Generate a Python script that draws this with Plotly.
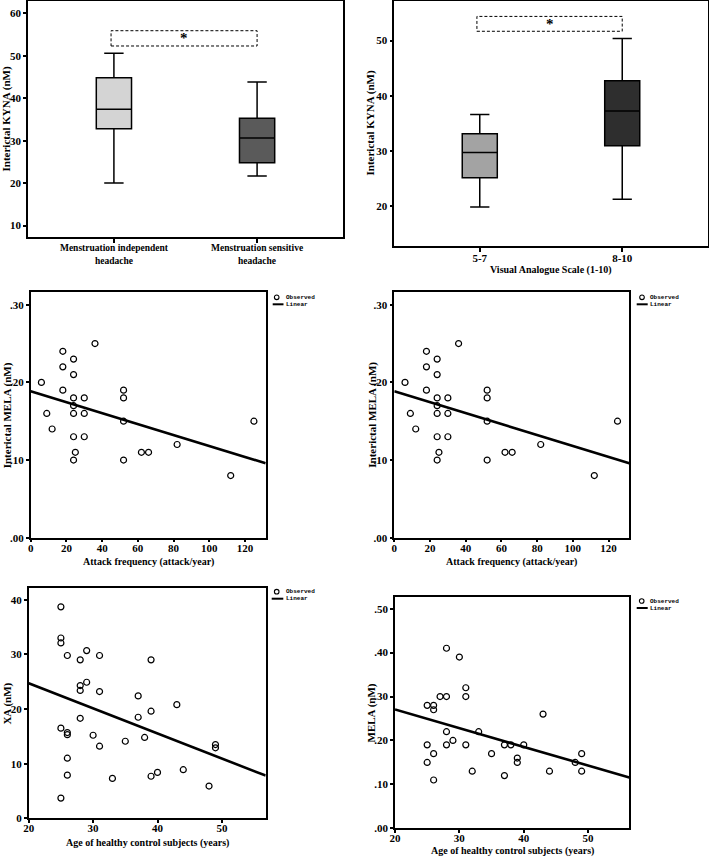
import numpy as np
import plotly.graph_objects as go

W, H = 709, 857
SERIF = "Liberation Serif"
MONO = "Liberation Mono"

# ---------------- Data ----------------
# Panel 1: box plot, menstruation groups
p1_categories = ["Menstruation independent<br>headache", "Menstruation sensitive<br>headache"]
p1_q1 = [32.8, 24.8]
p1_median = [37.4, 30.6]
p1_q3 = [44.8, 35.3]
p1_low = [20.0, 21.7]
p1_high = [50.6, 43.8]
p1_colors = ["#d4d4d4", "#5a5a5a"]

# Panel 2: box plot, VAS groups
p2_categories = ["5-7", "8-10"]
p2_q1 = [25.1, 30.9]
p2_median = [29.7, 37.2]
p2_q3 = [33.1, 42.7]
p2_low = [19.8, 21.2]
p2_high = [36.6, 50.4]
p2_colors = ["#a3a3a3", "#2e2e2e"]

# Panels 3 & 4: attack frequency vs interictal MELA
attack_freq = [6, 9, 12, 18, 18, 18, 24, 24, 24, 24, 24, 24, 24, 25, 30, 30, 30, 36,
               52, 52, 52, 52, 62, 66, 82, 112, 125]
interictal_mela = [0.20, 0.16, 0.14, 0.24, 0.22, 0.19, 0.23, 0.21, 0.18, 0.17, 0.16, 0.13, 0.10,
                   0.11, 0.18, 0.16, 0.13, 0.25, 0.19, 0.18, 0.15, 0.10, 0.11, 0.11, 0.12, 0.08, 0.15]

# Panel 5: age vs XA
age_xa = [25, 25, 25, 25, 25, 26, 26, 26, 26, 26, 28, 28, 28, 28, 29, 29, 30, 31, 31, 31,
          33, 35, 37, 37, 38, 39, 39, 39, 40, 43, 44, 48, 49, 49]
xa = [38.7, 33.0, 32.1, 16.5, 3.7, 29.8, 15.7, 15.3, 11.0, 7.9, 29.0, 24.3, 23.4, 18.3, 30.7,
      24.9, 15.2, 29.8, 23.2, 13.2, 7.3, 14.1, 22.4, 18.5, 14.8, 29.0, 19.6, 7.7, 8.4, 20.8,
      8.9, 5.9, 13.5, 12.9]

# Panel 6: age vs MELA
age_mela = [25, 25, 25, 26, 26, 26, 26, 27, 28, 28, 28, 28, 29, 30, 31, 31, 31, 32, 33, 35,
            37, 37, 38, 39, 39, 40, 43, 44, 48, 49, 49]
mela = [0.28, 0.19, 0.15, 0.28, 0.27, 0.17, 0.11, 0.30, 0.41, 0.30, 0.22, 0.19, 0.20, 0.39,
        0.32, 0.30, 0.19, 0.13, 0.22, 0.17, 0.19, 0.12, 0.19, 0.16, 0.15, 0.19, 0.26, 0.13,
        0.15, 0.17, 0.13]

# ---------------- Layout helpers ----------------
def px_x(p):
    return p / W

def px_y(p):
    return 1 - p / H

def axis_common(ticklen=3, fsize=11, standoff=0):
    return dict(showline=True, mirror=True, linecolor="black", linewidth=1.5,
                ticks="outside", ticklen=ticklen, tickwidth=1.5, tickcolor="black",
                showgrid=False, zeroline=False, automargin=False,
                ticklabelstandoff=standoff,
                tickfont=dict(family=SERIF, size=fsize, color="black", weight="bold"))

fig = go.Figure()
annotations = []
shapes = []

# panel frames in pixels: (left, right, top, bottom)
frames = {
    1: (28, 343, 1, 237),
    2: (394.3, 707.7, 1, 246),
    3: (30.7, 265.7, 292.3, 537.7),
    4: (394.3, 629.3, 292.3, 537.7),
    5: (28.7, 265.7, 588.3, 818.3),
    6: (395, 629.3, 597.3, 828.3),
}

def dom(i):
    l, r, t, b = frames[i]
    return [px_x(l), px_x(r)], [px_y(b), px_y(t)]

def axname(i, kind):
    return kind if i == 1 else f"{kind}{i}"

# ---------------- Box panels ----------------
def add_box_panel(i, cats, q1, med, q3, low, high, colors, yrange, ytickvals, sig_y):
    for k, c in enumerate(cats):
        fig.add_trace(go.Box(
            x=[c], q1=[q1[k]], median=[med[k]], q3=[q3[k]],
            lowerfence=[low[k]], upperfence=[high[k]],
            fillcolor=colors[k], line=dict(color="black", width=1.5),
            width=0.246, whiskerwidth=0.55, boxpoints=False, showlegend=False,
            hoverinfo="skip",
            xaxis=axname(i, "x"), yaxis=axname(i, "y")))
    xd, yd = dom(i)
    fig.layout[axname(i, "xaxis")] = dict(domain=xd, anchor=axname(i, "y"), type="category",
                                          range=[-0.6, 1.6],
                                          **axis_common(4, 9.5 if i == 1 else 11, -3))
    fig.layout[axname(i, "yaxis")] = dict(domain=yd, anchor=axname(i, "x"), range=yrange,
                                          tickvals=ytickvals, **axis_common())
    # significance box
    shapes.append(dict(type="rect", xref=axname(i, "x"), yref=axname(i, "y"),
                       x0=-0.02, x1=1.0, y0=sig_y[0], y1=sig_y[1],
                       line=dict(color="black", width=1, dash="3px,2px")))
    annotations.append(dict(xref=axname(i, "x"), yref=axname(i, "y"), x=0.49,
                            y=(sig_y[0] + sig_y[1]) / 2, text="<b>*</b>", showarrow=False,
                            yanchor="middle",
                            font=dict(family=SERIF, size=15, color="black")))

add_box_panel(1, p1_categories, p1_q1, p1_median, p1_q3, p1_low, p1_high, p1_colors,
              [7.3, 62.9], [10, 20, 30, 40, 50, 60], (52.3, 55.9))
add_box_panel(2, p2_categories, p2_q1, p2_median, p2_q3, p2_low, p2_high, p2_colors,
              [12.7, 57.2], [20, 30, 40, 50], (51.7, 54.4))

# ---------------- Scatter panels ----------------
def add_scatter_panel(i, xs, ys, xrange, yrange, xticks, yticks, yticktext):
    fig.add_trace(go.Scatter(x=xs, y=ys, mode="markers",
                             marker=dict(symbol="circle-open", size=6, color="black",
                                         line=dict(width=1.2, color="black")),
                             showlegend=False, xaxis=axname(i, "x"), yaxis=axname(i, "y")))
    slope, intercept = np.polyfit(np.array(xs, float), np.array(ys, float), 1)
    lx = np.array(xrange, float)
    fig.add_trace(go.Scatter(x=lx, y=intercept + slope * lx, mode="lines",
                             line=dict(color="black", width=2.6), showlegend=False,
                             xaxis=axname(i, "x"), yaxis=axname(i, "y")))
    xd, yd = dom(i)
    fig.layout[axname(i, "xaxis")] = dict(domain=xd, anchor=axname(i, "y"), range=xrange,
                                          tickvals=xticks, **axis_common(3, 11, -4))
    fig.layout[axname(i, "yaxis")] = dict(domain=yd, anchor=axname(i, "x"), range=yrange,
                                          tickvals=yticks, ticktext=yticktext, **axis_common())

add_scatter_panel(3, attack_freq, interictal_mela, [0, 131.6], [0, 0.316],
                  [0, 20, 40, 60, 80, 100, 120], [0, 0.1, 0.2, 0.3], [".00", ".10", ".20", ".30"])
add_scatter_panel(4, attack_freq, interictal_mela, [0, 131.6], [0, 0.316],
                  [0, 20, 40, 60, 80, 100, 120], [0, 0.1, 0.2, 0.3], [".00", ".10", ".20", ".30"])
add_scatter_panel(5, age_xa, xa, [20, 56.8], [0, 42.1],
                  [20, 30, 40, 50], [0, 10, 20, 30, 40], ["0", "10", "20", "30", "40"])
add_scatter_panel(6, age_mela, mela, [20, 56.4], [0, 0.526],
                  [20, 30, 40, 50], [0, 0.1, 0.2, 0.3, 0.4, 0.5],
                  [".00", ".10", ".20", ".30", ".40", ".50"])

# ---------------- Titles ----------------
def ytitle(text, xpx, panel):
    l, r, t, b = frames[panel]
    annotations.append(dict(xref="paper", yref="paper", x=px_x(xpx), y=px_y((t + b) / 2),
                            text=f"<b>{text}</b>", textangle=-90, showarrow=False,
                            xanchor="center", yanchor="middle",
                            font=dict(family=SERIF, size=11, color="black")))

def xtitle(text, ypx, panel):
    l, r, t, b = frames[panel]
    annotations.append(dict(xref="paper", yref="paper", x=px_x((l + r) / 2), y=px_y(ypx),
                            text=f"<b>{text}</b>", showarrow=False,
                            xanchor="center", yanchor="middle",
                            font=dict(family=SERIF, size=10, color="black")))

ytitle("Interictal KYNA (nM)", 5.5, 1)
ytitle("Interictal KYNA (nM)", 370, 2)
ytitle("Interictal MELA (nM)", 7.3, 3)
ytitle("Interictal MELA (nM)", 371.7, 4)
ytitle("XA (nM)", 7.3, 5)
ytitle("MELA (nM)", 371.7, 6)

xtitle("Visual Analogue Scale (1-10)", 269.5, 2)
xtitle("Attack frequency (attack/year)", 562.3, 3)
xtitle("Attack frequency (attack/year)", 562.3, 4)
xtitle("Age of healthy control subjects (years)", 842.7, 5)
xtitle("Age of healthy control subjects (years)", 851.0, 6)

# ---------------- Mini legends ----------------
def mini_legend(cx, cy_obs, cy_lin, line_x0, line_x1, text_x):
    shapes.append(dict(type="circle", xref="paper", yref="paper",
                       x0=px_x(cx - 2.3), x1=px_x(cx + 2.3), y0=px_y(cy_obs + 2.3), y1=px_y(cy_obs - 2.3),
                       line=dict(color="black", width=1.1)))
    shapes.append(dict(type="line", xref="paper", yref="paper",
                       x0=px_x(line_x0), x1=px_x(line_x1), y0=px_y(cy_lin), y1=px_y(cy_lin),
                       line=dict(color="black", width=2)))
    for txt, yy in (("Observed", cy_obs), ("Linear", cy_lin)):
        annotations.append(dict(xref="paper", yref="paper", x=px_x(text_x), y=px_y(yy),
                                text=f"<b>{txt}</b>", showarrow=False, xanchor="left",
                                yanchor="middle",
                                font=dict(family=MONO, size=6, color="black")))

mini_legend(276.7, 297.3, 304.3, 272.7, 283.5, 283.8)
mini_legend(642.0, 297.3, 304.3, 636.7, 647.7, 648.0)
mini_legend(276.7, 591.7, 598.7, 271.7, 283.3, 283.8)
mini_legend(641.7, 601.0, 608.0, 636.7, 647.7, 648.0)

fig.update_layout(width=W, height=H, margin=dict(l=0, r=0, t=0, b=0),
                  paper_bgcolor="white", plot_bgcolor="white",
                  boxmode="overlay", showlegend=False,
                  annotations=annotations, shapes=shapes)

fig.write_html("out.html", config={"displayModeBar": False},
               post_script="document.body.style.margin='0px';document.body.style.padding='0px';"
                           "document.body.style.overflow='hidden';")
